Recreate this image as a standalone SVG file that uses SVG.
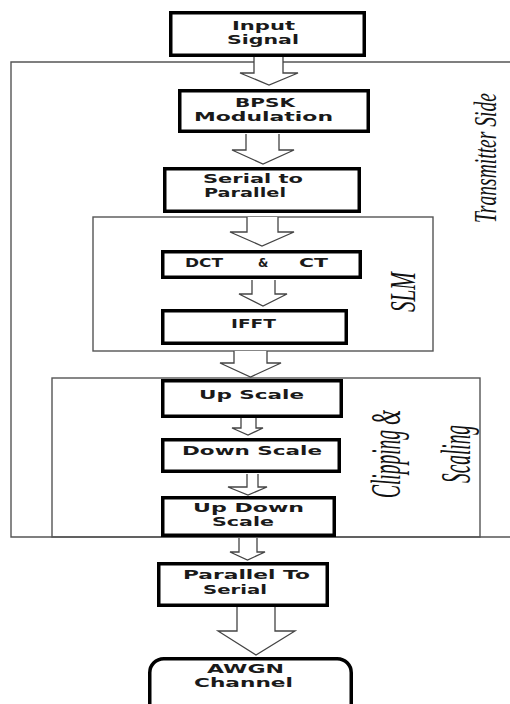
<svg xmlns="http://www.w3.org/2000/svg" width="510" height="704" viewBox="0 0 510 704">
<style>
.box{fill:#fff;stroke:#000;stroke-width:3.5}
.grp{fill:none;stroke:#555;stroke-width:1.4}
.arr{fill:#fff;stroke:#444;stroke-width:1.3;stroke-linejoin:miter}
.t{font-family:"DejaVu Sans",sans-serif;font-weight:bold;font-size:11.8px;fill:#1a1a1a;text-anchor:middle}
.ts{font-family:"DejaVu Sans",sans-serif;font-weight:bold;font-size:11.8px;fill:#1a1a1a}
.lab{font-family:"Liberation Serif",serif;font-style:italic;fill:#111;text-anchor:middle}
</style>
<rect width="510" height="704" fill="#fff"/>
<g id="containers">
<path id="transmitter" class="grp" d="M512 62 H11 V537 H512"/>
<rect id="slm" class="grp" x="93" y="217" width="340" height="134"/>
<rect id="clipping" class="grp" x="52" y="378" width="428" height="159"/>
</g>
<g id="connectors">
<path class="arr" d="M254 57 V73 H240 L269 85 L298 73 H283 V57"/>
<path class="arr" d="M246 134 V150 H232 L263 164 L294 150 H279 V134"/>
<path class="arr" d="M247 217 V232 H230 L262 246 L294 232 H278 V217"/>
<path class="arr" d="M252 280 V294 H239 L263 306 L287 294 H275 V280"/>
<path class="arr" d="M234 351 V363 H220 L250.5 377 L281 363 H267 V351"/>
<path class="arr" d="M241 418 V428 H232 L248 435 L263 428 H256 V418"/>
<path class="arr" d="M247 474 V487 H228 L248 495 L267 487 H258 V474"/>
<path class="arr" d="M239 538 V552 H230 L247.5 560 L265 552 H257 V538"/>
<path class="arr" d="M237 607 V631 H218 L256 655 L295 631 H275 V607"/>
</g>
<g id="input">
<rect class="box" x="170.75" y="12.75" width="193.5" height="42.5"/>
<text class="t" x="263.5" y="30" textLength="63" lengthAdjust="spacingAndGlyphs">Input</text>
<text class="t" x="263" y="44" textLength="72" lengthAdjust="spacingAndGlyphs">Signal</text>
</g>
<g id="bpsk">
<rect class="box" x="179.75" y="90.75" width="188.5" height="40.5"/>
<text class="t" x="265" y="107" textLength="60" lengthAdjust="spacingAndGlyphs">BPSK</text>
<text class="t" x="263.5" y="121" textLength="139" lengthAdjust="spacingAndGlyphs">Modulation</text>
</g>
<g id="s2p">
<rect class="box" x="164.75" y="168.75" width="194.5" height="42.5"/>
<text class="t" x="253" y="183" textLength="100" lengthAdjust="spacingAndGlyphs">Serial to</text>
<text class="t" x="245" y="197" textLength="82" lengthAdjust="spacingAndGlyphs">Parallel</text>
</g>
<g id="dct">
<rect class="box" x="162.75" y="251.75" width="197.5" height="25.5"/>
<text class="ts" y="267"><tspan x="185" textLength="44" lengthAdjust="spacingAndGlyphs">DCT </tspan><tspan x="258">&amp; </tspan><tspan x="299" textLength="29" lengthAdjust="spacingAndGlyphs">CT</tspan></text>
</g>
<g id="ifft">
<rect class="box" x="162.75" y="310.75" width="183.5" height="32.5"/>
<text class="t" x="253.5" y="328" textLength="45" lengthAdjust="spacingAndGlyphs">IFFT</text>
</g>
<g id="upscale">
<rect class="box" x="162.75" y="380.75" width="178.5" height="35.5"/>
<text class="t" x="251.5" y="399" textLength="105" lengthAdjust="spacingAndGlyphs">Up Scale</text>
</g>
<g id="downscale">
<rect class="box" x="162.75" y="439.75" width="176.5" height="31.5"/>
<text class="t" x="252" y="455" textLength="140" lengthAdjust="spacingAndGlyphs">Down Scale</text>
</g>
<g id="updownscale">
<rect class="box" x="162.75" y="497.75" width="171.5" height="37.5"/>
<text class="t" x="248.5" y="512" textLength="111" lengthAdjust="spacingAndGlyphs">Up Down</text>
<text class="t" x="243" y="526" textLength="62" lengthAdjust="spacingAndGlyphs">Scale</text>
</g>
<g id="p2s">
<rect class="box" x="158.75" y="563.75" width="168.5" height="41.5"/>
<text class="t" x="246.5" y="579" textLength="127" lengthAdjust="spacingAndGlyphs">Parallel To</text>
<text class="t" x="235" y="594" textLength="64" lengthAdjust="spacingAndGlyphs">Serial</text>
</g>
<g id="awgn">
<rect class="box" x="149.75" y="658.75" width="201.5" height="70" rx="14" ry="14"/>
<text class="t" x="245.5" y="673" textLength="77" lengthAdjust="spacingAndGlyphs">AWGN</text>
<text class="t" x="243.5" y="687" textLength="99" lengthAdjust="spacingAndGlyphs">Channel</text>
</g>
<g id="labels">
<text class="lab" font-size="32" transform="translate(496 158) rotate(-90)" textLength="130" lengthAdjust="spacingAndGlyphs">Transmitter Side</text>
<text class="lab" font-size="36" transform="translate(415 292) rotate(-90)" textLength="40" lengthAdjust="spacingAndGlyphs">SLM</text>
<text class="lab" font-size="43" transform="translate(400 454) rotate(-90)" textLength="88" lengthAdjust="spacingAndGlyphs">Clipping &amp;</text>
<text class="lab" font-size="43" transform="translate(470 454) rotate(-90)" textLength="58" lengthAdjust="spacingAndGlyphs">Scaling</text>
</g>
</svg>
